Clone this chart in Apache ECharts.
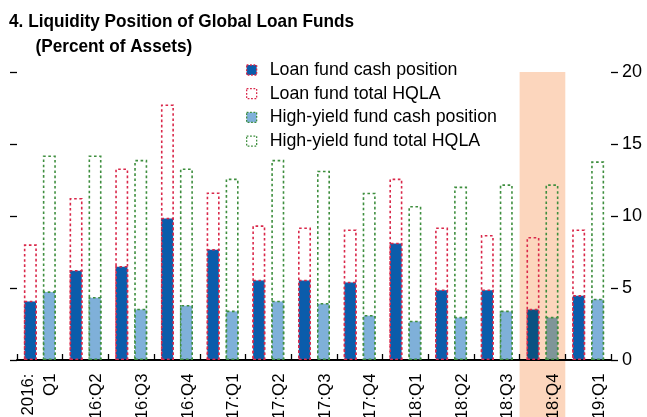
<!DOCTYPE html>
<html>
<head>
<meta charset="utf-8">
<script src="https://cdn.jsdelivr.net/npm/echarts@6/dist/echarts.min.js"></script>
<style>
html,body{margin:0;padding:0;background:#fff;overflow:hidden;}
#c{width:647px;height:417px;}
</style>
</head>
<body>
<div id="c"></div>
<script>
// ---- data ----
const categories = ['2016:Q1','2016:Q2','2016:Q3','2016:Q4','2017:Q1','2017:Q2','2017:Q3','2017:Q4','2018:Q1','2018:Q2','2018:Q3','2018:Q4','2019:Q1'];
const tickLabels = ['2016:\nQ1','16:Q2','16:Q3','16:Q4','17:Q1','17:Q2','17:Q3','17:Q4','18:Q1','18:Q2','18:Q3','18:Q4','19:Q1'];
const loanCash = [4.12, 6.25, 6.53, 9.88, 7.71, 5.58, 5.58, 5.44, 8.15, 4.90, 4.90, 3.56, 4.51];
const loanHQLA = [8.03, 11.25, 13.3, 17.75, 11.64, 9.35, 9.2, 9.07, 12.6, 9.2, 8.68, 8.54, 9.07];
const hyCash = [4.77, 4.38, 3.56, 3.82, 3.43, 4.12, 3.96, 3.13, 2.73, 3.00, 3.43, 3.00, 4.26];
const hyHQLA = [14.2, 14.2, 13.9, 13.3, 12.6, 13.9, 13.15, 11.62, 10.7, 12.04, 12.2, 12.2, 13.8];
const yTicks = [0, 5, 10, 15, 20];
const highlighted = '2018:Q4';
const seriesNames = ['Loan fund cash position','Loan fund total HQLA','High-yield fund cash position','High-yield fund total HQLA'];
const titleLines = ['4. Liquidity Position of Global Loan Funds', '(Percent of Assets)'];

// ---- styles ----
const RED = '#d9284a', GREEN = '#3e8e3e';
const BLUE = '#0b5cab', LBLUE = '#7fb0d9';
const BLUE_H = '#0a5282', LBLUE_H = '#7f9598';
const BAND = '#fcd6bd';
const FONT = '"Liberation Sans", Arial, sans-serif';
const dash = [2.6, 2.6];
const BW = 1.6;

function colored(arr, hi) {
  return arr.map((v, i) => categories[i] === highlighted ? {value: v, itemStyle: {color: hi}} : v);
}

const chart = echarts.init(document.getElementById('c'), null, {renderer: 'canvas', width: 647, height: 417});
const option = {
  animation: false,
  backgroundColor: '#fff',
  legend: {
    data: seriesNames.map((n) => ({name: n, itemStyle: {borderType: [1.8, 1.6], borderWidth: 1.3}})),
    orient: 'vertical',
    left: 246, top: 60, padding: 0,
    itemWidth: 10, itemHeight: 10, itemGap: 3.7,
    icon: 'rect',
    textStyle: {fontFamily: FONT, fontSize: 17.8, color: '#000', lineHeight: 20, padding: [0, 0, 0, 8]},
    selectedMode: false
  },
  grid: {left: 17, width: 594, top: 72, height: 288, containLabel: false, outerBoundsMode: 'none'},
  xAxis: [
    {type: 'category', data: categories, boundaryGap: true,
     axisLine: {show: true, lineStyle: {color: '#000', width: 2}},
     axisTick: {show: true, inside: true, length: 6, alignWithLabel: false, lineStyle: {color: '#000', width: 1.3}},
     axisLabel: {show: true, rotate: 90, interval: 0, margin: 13.5, fontFamily: FONT, fontSize: 16.8, color: '#000',
       lineHeight: 22, hideOverlap: false,
       formatter: (v) => { const i = categories.indexOf(v); return i === 0 ? tickLabels[i] : '\n' + tickLabels[i]; }}},
    {type: 'category', data: categories, show: false}
  ],
  yAxis: [
    {type: 'value', position: 'right', min: 0, max: 20, interval: 5,
     axisLine: {show: false},
     axisTick: {show: true, inside: false, length: 7, lineStyle: {color: '#000', width: 1.3}},
     axisLabel: {show: true, margin: 11, fontFamily: FONT, fontSize: 18, color: '#000'},
     splitLine: {show: false}},
    {type: 'value', position: 'left', min: 0, max: 20, interval: 5,
     axisLine: {show: false},
     axisTick: {show: true, inside: false, length: 7, lineStyle: {color: '#000', width: 1.3}},
     axisLabel: {show: false},
     splitLine: {show: false}}
  ],
  series: [
    {name: seriesNames[0], type: 'bar', xAxisIndex: 1, yAxisIndex: 0, z: 4,
     barWidth: 13, barGap: '46%', data: colored(loanCash, BLUE_H),
     itemStyle: {color: BLUE, borderColor: RED, borderWidth: BW, borderType: dash}},
    {name: seriesNames[1], type: 'bar', xAxisIndex: 0, yAxisIndex: 0, z: 3,
     barWidth: 13, barGap: '46%', data: loanHQLA,
     itemStyle: {color: 'rgba(255,255,255,0)', borderColor: RED, borderWidth: BW, borderType: dash}},
    {name: seriesNames[2], type: 'bar', xAxisIndex: 1, yAxisIndex: 0, z: 4,
     barWidth: 13, barGap: '46%', data: colored(hyCash, LBLUE_H),
     itemStyle: {color: LBLUE, borderColor: GREEN, borderWidth: BW, borderType: dash}},
    {name: seriesNames[3], type: 'bar', xAxisIndex: 0, yAxisIndex: 0, z: 3,
     barWidth: 13, barGap: '46%', data: hyHQLA,
     itemStyle: {color: 'rgba(255,255,255,0)', borderColor: GREEN, borderWidth: BW, borderType: dash}}
  ]
};
chart.setOption(option);

// highlight band for the highlighted quarter, placed with the axis scales
const idx = categories.indexOf(highlighted);
const cx = chart.convertToPixel({xAxisIndex: 0}, categories[idx]);
const bw = chart.convertToPixel({xAxisIndex: 0}, categories[1]) - chart.convertToPixel({xAxisIndex: 0}, categories[0]);
const yTop = chart.convertToPixel({yAxisIndex: 0}, yTicks[yTicks.length - 1]);
const titleStyle = {fontFamily: FONT, fontWeight: 'bold', fontSize: 18.5, fill: '#000', verticalAlign: 'top', align: 'left'};
chart.setOption({
  graphic: [
    {type: 'rect', z: -10, silent: true,
     shape: {x: cx - bw / 2, y: yTop, width: bw, height: chart.getHeight() - yTop},
     style: {fill: BAND}},
    {type: 'text', x: 9, y: 12.5, scaleX: 0.93, silent: true,
     style: Object.assign({text: titleLines[0]}, titleStyle)},
    {type: 'text', x: 35.5, y: 37.5, scaleX: 0.93, silent: true,
     style: Object.assign({text: titleLines[1]}, titleStyle)}
  ]
});
</script>
</body>
</html>
